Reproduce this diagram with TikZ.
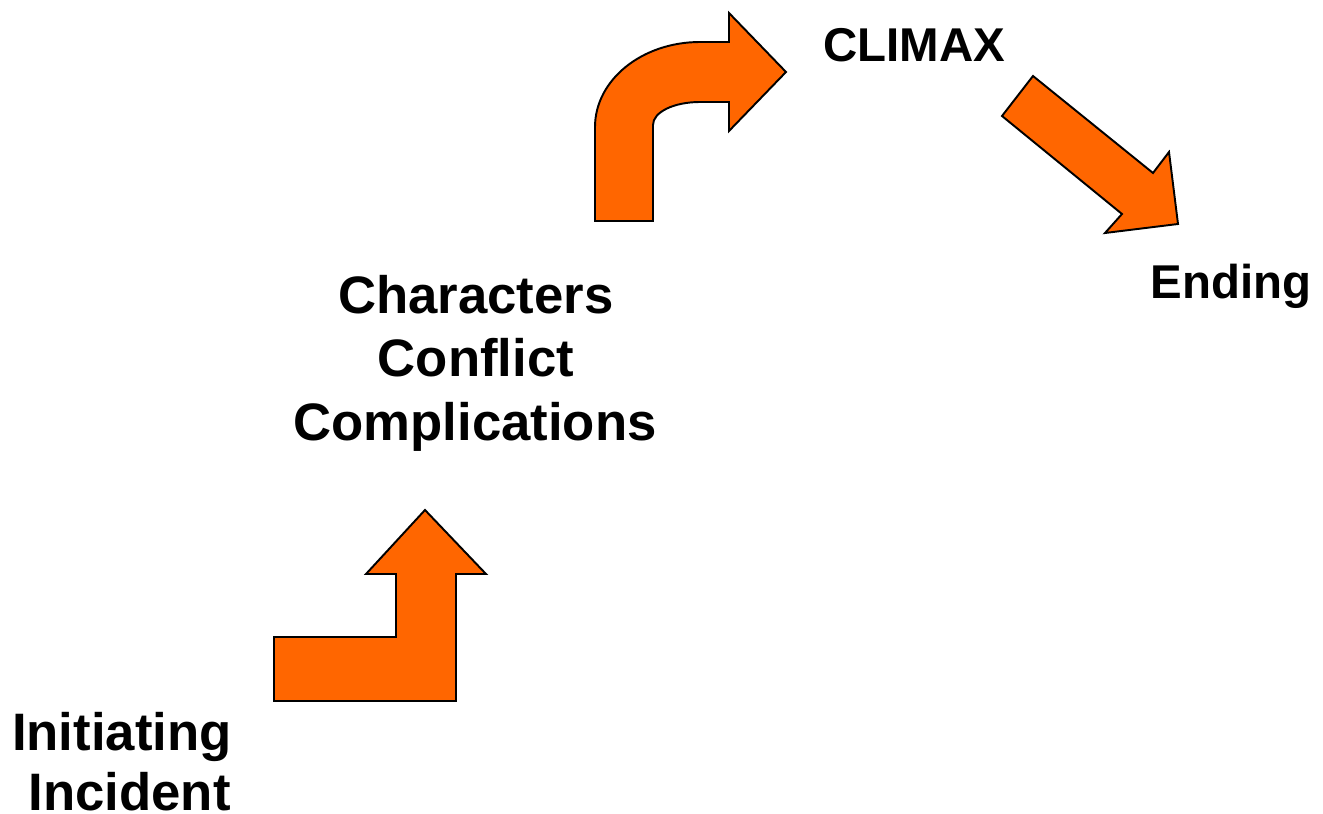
\documentclass[tikz,border=0pt]{standalone}
\usepackage{fontspec}
\setmainfont{Liberation Sans}
\definecolor{arroworange}{HTML}{FF6600}
\begin{document}
\begin{tikzpicture}[x=0.02cm,y=-0.02cm,
  bigarrow/.style={draw=black,line width=1.1pt,fill=arroworange,line join=miter},
  bigtext/.style={inner sep=0pt,font=\fontsize{30}{36}\selectfont\bfseries},
  midtext/.style={inner sep=0pt,font=\fontsize{27}{32}\selectfont\bfseries}]
\useasboundingbox (0,0) rectangle (1323,814);
% arrow 1: L-shaped up arrow
\draw[bigarrow] (274,701) -- (274,637) -- (396,637) -- (396,574) -- (366,574)
  -- (425,510) -- (486,574) -- (456,574) -- (456,701) -- cycle;
% arrow 2: curved arrow
\draw[bigarrow] (595,221) -- (595,127) .. controls (595,80) and (642,42) .. (700,42)
  -- (729,42) -- (729,13) -- (786,72) -- (729,131) -- (729,102) -- (700,102)
  .. controls (674,102) and (653,112) .. (653,125) -- (653,221) -- cycle;
% arrow 3: diagonal down arrow
\draw[bigarrow] (1033,76) -- (1153,173) -- (1169,152) -- (1178,224) -- (1105,233)
  -- (1122,214) -- (1002,116) -- cycle;
% texts
\node[bigtext,anchor=base east] (init1) at (232,750) {Initiating};
\node[bigtext,anchor=base east] (init2) at (231,810) {Incident};
\node[bigtext,anchor=base] (ch1) at (476,314) {Characters};
\node[bigtext,anchor=base] (ch2) at (476,377) {Conflict};
\node[bigtext,anchor=base] (ch3) at (475,440) {Complications};
\node[midtext,anchor=base] (climax) at (914,62) {CLIMAX};
\node[midtext,anchor=base] (ending) at (1231,299) {Ending};
\end{tikzpicture}
\end{document}
